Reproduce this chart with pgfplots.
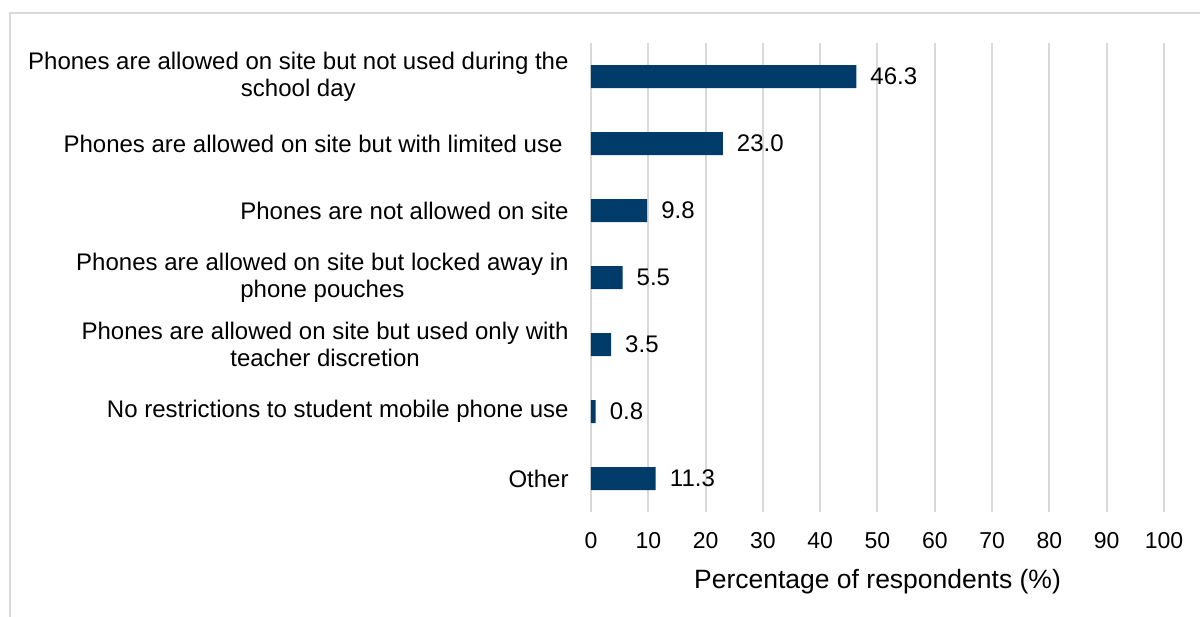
\documentclass[border=0pt]{standalone}
\usepackage{fontspec}
\setmainfont{Liberation Sans}
\usepackage{pgfplots}
\pgfplotsset{compat=1.18}
\definecolor{navy}{RGB}{0,59,106}
\definecolor{gridgray}{RGB}{217,217,217}
\begin{document}
\begin{tikzpicture}
\useasboundingbox (-591bp,-105bp) rectangle (609bp,512bp);
\draw[gridgray, line width=1.5bp] (-581bp,-110bp) -- (-581bp,499bp) -- (615bp,499bp);
\begin{axis}[
  at={(0,0)}, anchor=south west,
  scale only axis, width=573bp, height=469bp,
  xbar, bar width=23bp,
  xmin=0, xmax=100, ymin=-0.5, ymax=6.5, y dir=reverse,
  xtick={0,10,...,100}, ytick={0,...,6},
  yticklabels={{Phones are allowed on site but not used during the\\school day},
    {Phones are allowed on site but with limited use\hspace{6bp}},
    {Phones are not allowed on site},
    {Phones are allowed on site but locked away in\\phone pouches},
    {Phones are allowed on site but used only with\\teacher discretion},
    {No restrictions to student mobile phone use},
    {Other}},
  axis line style={draw=none}, tick style={draw=none},
  xmajorgrids, major grid style={gridgray, line width=2bp},
  /pgf/number format/assume math mode=true,
  xticklabel style={anchor=base, yshift=-36bp, inner sep=0pt, font=\fontsize{23bp}{27bp}\selectfont},
  yticklabel style={anchor=east, align=center, xshift=-18bp, inner sep=0pt, font=\fontsize{24bp}{27bp}\selectfont},
  xlabel={Percentage of respondents (\%)},
  xlabel style={at={(axis description cs:0.5,0)}, anchor=base, yshift=-76bp, inner sep=0pt, font=\fontsize{26.5bp}{30bp}\selectfont},
  point meta=x,
  nodes near coords={\pgfmathprintnumber[fixed,fixed zerofill,precision=1]{\pgfplotspointmeta}},
  nodes near coords style={anchor=west, inner sep=0pt, xshift=14bp, font=\fontsize{24bp}{27bp}\selectfont, text=black},
]
\addplot[fill=navy, draw=none] coordinates {(46.3,0) (23.0,1) (9.8,2) (5.5,3) (3.5,4) (0.8,5) (11.3,6)};
\end{axis}
\end{tikzpicture}
\end{document}
